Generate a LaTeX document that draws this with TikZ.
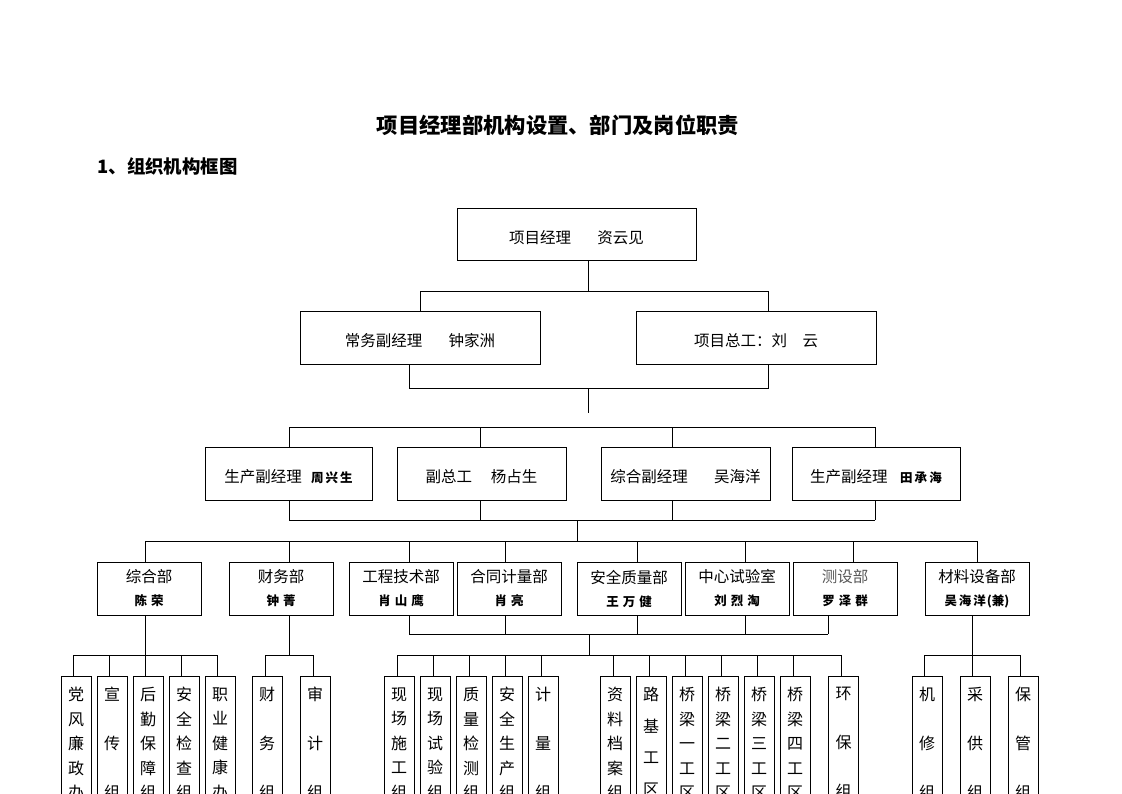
\documentclass[tikz,border=0pt]{standalone}
\usepackage{fontspec}
\setmainfont{Noto Sans CJK SC}
\newcommand\pname[1]{{\fontsize{12.5}{14}\selectfont\bfseries #1}}
\begin{document}
\begin{tikzpicture}[x=1pt,y=-1pt,line width=0.8pt,
  box/.style={draw,line width=0.8pt,inner sep=0pt,align=center,
    font=\fontsize{15.5}{18}\selectfont,text height=20.6pt,text depth=2pt},
  dept/.style={draw,line width=0.8pt,inner sep=0pt,align=center,
    minimum width=104,minimum height=53,font=\fontsize{15.5}{23}\selectfont},
  grp/.style={draw,line width=0.8pt,anchor=north,inner xsep=0pt,inner ysep=11pt,
    align=center,text width=30,font=\fontsize{16}{24.5}\selectfont}]
\useasboundingbox (0,0) rectangle (1122,793);
\fill[white] (0,0) rectangle (1122,793);
\begin{scope}
\clip (0,0) rectangle (1122,793);
% titles
\node[font=\fontsize{21.3}{24}\selectfont\bfseries] (title) at (558,125) {项目经理部机构设置、部门及岗位职责};
\node[font=\fontsize{18.4}{22}\selectfont\bfseries,anchor=west,inner sep=0pt] (sub) at (97,166) {1、组织机构框图};
% level 1-2
\node[box,minimum width=239,minimum height=52] (pm) at (576.5,234) {项目经理\hspace{1.7em}资云见};
\node[box,minimum width=240,minimum height=53] (cw) at (420,337.5) {常务副经理\hspace{1.7em}钟家洲};
\node[box,minimum width=240,minimum height=53] (zg) at (756,337.5) {项目总工：刘\hspace{1em}云};
% level 4
\node[box,minimum width=167,minimum height=53] (ra) at (288.5,473.5) {生产副经理\hspace{0.6em}\pname{周\,兴\,生}};
\node[box,minimum width=169,minimum height=53] (rb) at (481.5,473.5) {副总工\hspace{1.2em}杨占生};
\node[box,minimum width=169,minimum height=53] (rc) at (685.5,473.5) {综合副经理\hspace{1.7em}吴海洋};
\node[box,minimum width=168,minimum height=53] (rd) at (876,473.5) {生产副经理\hspace{0.8em}\pname{田\,承\,海}};
% departments
\node[dept] (d1) at (149,588.5) {综合部\\\pname{陈\hspace{4pt}荣}};
\node[dept] (d2) at (281,588.5) {财务部\\\pname{钟\hspace{4pt}菁}};
\node[dept] (d3) at (401,588.5) {工程技术部\\\pname{肖\hspace{4pt}山\hspace{4pt}鹰}};
\node[dept] (d4) at (509,588.5) {合同计量部\\\pname{肖\hspace{4pt}亮}};
\node[dept] (d5) at (629,588.5) {安全质量部\\\pname{王\hspace{4pt}万\hspace{4pt}健}};
\node[dept] (d6) at (737,588.5) {中心试验室\\\pname{刘\hspace{4pt}烈\hspace{4pt}淘}};
\node[dept] (d7) at (845,588.5) {\textcolor{black!65}{测设部}\\\pname{罗\hspace{4pt}泽\hspace{4pt}群}};
\node[dept] (d8) at (977,588.5) {材料设备部\\\pname{吴\hspace{2pt}海\hspace{2pt}洋\hspace{1pt}(兼)}};
% groups
\node[grp] (g1) at (76,676) {党\\风\\廉\\政\\办};
\node[grp] (g2) at (112,676) {宣\\[24.5pt]传\\[24.5pt]组};
\node[grp] (g3) at (148,676) {后\\勤\\保\\障\\组};
\node[grp] (g4) at (184,676) {安\\全\\检\\查\\组};
\node[grp] (g5) at (220,676) {职\\业\\健\\康\\办};
\node[grp] (g6) at (267,676) {财\\[24.5pt]务\\[24.5pt]组};
\node[grp] (g7) at (315,676) {审\\[24.5pt]计\\[24.5pt]组};
\node[grp] (g8) at (399,676) {现\\场\\施\\工\\组};
\node[grp] (g9) at (435,676) {现\\场\\试\\验\\组};
\node[grp] (g10) at (471,676) {质\\量\\检\\测\\组};
\node[grp] (g11) at (507,676) {安\\全\\生\\产\\组};
\node[grp] (g12) at (543,676) {计\\[24.5pt]量\\[24.5pt]组};
\node[grp] (g13) at (615,676) {资\\料\\档\\案\\组};
\node[grp] (g14) at (651,676) {路\\[7pt]基\\[7pt]工\\[7pt]区};
\node[grp] (g15) at (687,676) {桥\\梁\\一\\工\\区};
\node[grp] (g16) at (723,676) {桥\\梁\\二\\工\\区};
\node[grp] (g17) at (759,676) {桥\\梁\\三\\工\\区};
\node[grp] (g18) at (795,676) {桥\\梁\\四\\工\\区};
\node[grp] (g19) at (843.5,676) {环\\[24.5pt]保\\[24.5pt]组};
\node[grp] (g20) at (927,676) {机\\[24.5pt]修\\[24.5pt]组};
\node[grp] (g21) at (975,676) {采\\[24.5pt]供\\[24.5pt]组};
\node[grp] (g22) at (1023,676) {保\\[24.5pt]管\\[24.5pt]组};
% connectors level 1
\coordinate (a1) at (588,291); \coordinate (a1L) at (420,291); \coordinate (a1R) at (768,291);
\draw (pm.south -| a1) -- (a1);
\draw (a1L) -- (a1R);
\draw (a1L) -- (cw.north -| a1L);
\draw (a1R) -- (zg.north -| a1R);
% level 2
\coordinate (b1L) at (409,388); \coordinate (b1R) at (768,388);
\coordinate (b1) at (588,388); \coordinate (b1e) at (588,413);
\draw (cw.south -| b1L) -- (b1L) -- (b1R) -- (zg.south -| b1R);
\draw (b1) -- (b1e);
% level 3
\foreach \x/\n in {289/ra,480/rb,672/rc,875/rd}{
  \coordinate (u\n) at (\x,427);
  \draw (u\n) -- (\n.north -| u\n);
  \coordinate (l\n) at (\x,520);
  \draw (\n.south -| l\n) -- (l\n);
}
\draw (ura) -- (urd);
\draw (lra) -- (lrd);
\coordinate (m1) at (577,520); \coordinate (m2) at (577,541);
\draw (m1) -- (m2);
% to departments
\foreach \x/\n in {145/d1,289/d2,409/d3,505/d4,637/d5,745/d6,853/d7,977/d8}{
  \coordinate (t\n) at (\x,541);
  \draw (t\n) -- (\n.north -| t\n);
}
\draw (td1) -- (td8);
% below departments
\coordinate (s1) at (145,655); \draw (d1.south -| s1) -- (s1);
\coordinate (s2) at (289,655); \draw (d2.south -| s2) -- (s2);
\coordinate (s8) at (972,655); \draw (d8.south -| s8) -- (s8);
\foreach \x/\n in {409/d3,505/d4,637/d5,745/d6,828/d7}{
  \coordinate (k\n) at (\x,634);
  \draw (\n.south -| k\n) -- (k\n);
}
\draw (kd3) -- (kd7);
\coordinate (k0) at (589,634); \coordinate (k1) at (589,655);
\draw (k0) -- (k1);
\foreach \x/\n in {73/g1,109/g2,145/g3,181/g4,217/g5,265/g6,313/g7,397/g8,433/g9,469/g10,505/g11,541/g12,613/g13,649/g14,685/g15,721/g16,757/g17,793/g18,841/g19,924/g20,972/g21,1020/g22}{
  \coordinate (h\n) at (\x,655);
  \draw (h\n) -- (\n.north -| h\n);
}
\draw (hg1) -- (hg5);
\draw (hg6) -- (hg7);
\draw (hg8) -- (hg19);
\draw (hg20) -- (hg22);
\end{scope}
\end{tikzpicture}
\end{document}
